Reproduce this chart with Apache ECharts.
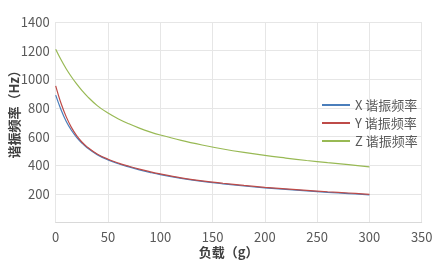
<!DOCTYPE html>
<html>
<head>
<meta charset="utf-8">
<script src="https://cdn.jsdelivr.net/npm/echarts@6/dist/echarts.min.js"></script>
<style>html,body{margin:0;padding:0;background:#fff}#c{width:446px;height:270px}</style>
</head>
<body>
<div id="c"></div>
<script>
const loads = [0,5,10,15,20,25,30,40,50,60,70,80,90,100,120,140,160,180,200,220,240,260,280,300];
const xFreq = [890,790,708,645,596,556,523,473,438,411,389,369,351,335,309,288,271,256,243,232,222,212,203,194];
const yFreq = [955,835,740,665,607,563,529,478,443,416,394,374,356,340,313,292,275,260,247,236,226,216,207,198];
const zFreq = [1210,1138,1074,1018,968,923,883,815,765,724,690,660,634,612,574,542,514,490,469,451,434,419,405,390];
const seriesNames = ['X 谐振频率','Y 谐振频率','Z 谐振频率'];
const xTicks = [0,50,100,150,200,250,300,350];
const yTicks = [0,200,400,600,800,1000,1200,1400];

const pairs = arr => loads.map((l,i)=>[l,arr[i]]);
const font = '"Noto Sans CJK SC", sans-serif';
const chart = echarts.init(document.getElementById('c'), null, {renderer:'canvas'});
const colors = ['#4a7ebb','#be4b48','#98b954'];
chart.setOption({
  animation:false,
  textStyle:{fontFamily:font},
  grid:{left:55.7,right:24.3,top:22,bottom:47.3,containLabel:false,outerBoundsMode:'none'},
  legend:{
    orient:'vertical', left:317, top:92,
    itemWidth:28, itemHeight:2, itemGap:2, icon:'rect',
    textStyle:{fontSize:13,color:'#595959',fontFamily:font,lineHeight:16},
    data:seriesNames
  },
  xAxis:{
    type:'value', min:xTicks[0], max:xTicks[xTicks.length-1], interval:50,
    name:'负载（g）', nameLocation:'middle', nameGap:23, nameMoveOverlap:false,
    nameTextStyle:{fontSize:13,color:'#404040',fontWeight:'bold',padding:[0,20,0,0]},
    axisLine:{show:true,lineStyle:{color:'#d9d9d9'}},
    axisTick:{show:false},
    axisLabel:{fontSize:13,color:'#595959',margin:8,formatter:v=>String(v)},
    splitLine:{show:true,lineStyle:{color:'#e6e6e6'}}
  },
  yAxis:{
    type:'value', min:yTicks[0], max:yTicks[yTicks.length-1], interval:200,
    name:'谐振频率（Hz）', nameLocation:'middle', nameGap:35, nameMoveOverlap:false,
    nameTextStyle:{fontSize:13,color:'#404040',fontWeight:'bold',padding:[0,0,0,22]},
    axisLine:{show:false},
    axisTick:{show:false},
    axisLabel:{fontSize:13,color:'#595959',margin:6,showMinLabel:false,formatter:v=>String(v)},
    splitLine:{show:true,lineStyle:{color:'#e6e6e6'}}
  },
  series:[xFreq,yFreq,zFreq].map((arr,i)=>({
    name:seriesNames[i], type:'line', data:pairs(arr),
    smooth:0.4, showSymbol:false,
    lineStyle:{width:1.2,color:colors[i]}, itemStyle:{color:colors[i]}
  }))
});
</script>
</body>
</html>
